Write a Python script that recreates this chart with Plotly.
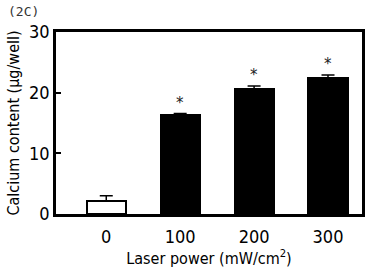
import plotly.graph_objects as go

categories = ["0", "100", "200", "300"]
values = [2.2, 16.4, 20.6, 22.4]
errors = [0.8, 0.15, 0.5, 0.5]
significant = [False, True, True, True]
fill_colors = ["white", "black", "black", "black"]
y_ticks = [0, 10, 20, 30]

FONT = "Liberation Sans Narrow, DejaVu Sans Condensed, Arial, sans-serif"
xpos = list(range(len(categories)))

fig = go.Figure()
fig.add_trace(go.Bar(
    x=xpos, y=values, width=0.53,
    marker=dict(color=fill_colors, line=dict(color="black", width=2)),
    error_y=dict(type="data", symmetric=False, array=errors,
                 arrayminus=[0] * len(errors), color="black",
                 thickness=1.5, width=6.5),
    showlegend=False,
))

for i, (v, e, s) in enumerate(zip(values, errors, significant)):
    if s:
        fig.add_annotation(x=i, y=v + e, text="*", showarrow=False,
                           xanchor="center", yanchor="bottom", yshift=0,
                           font=dict(family="DejaVu Sans", size=15, color="#222"))

fig.add_annotation(xref="paper", yref="paper", x=-0.165, y=1.06,
                   xanchor="left", yanchor="bottom", text="(2C)", showarrow=False,
                   font=dict(family="DejaVu Sans Mono", size=13, color="#333"))

fig.update_layout(
    width=373, height=271,
    margin=dict(l=56, r=11, t=32, b=57, autoexpand=False),
    paper_bgcolor="white", plot_bgcolor="white",
    font=dict(family=FONT, color="black"),
    bargap=0,
)
fig.update_xaxes(
    range=[-0.68, 3.46], tickmode="array", tickvals=xpos, ticktext=categories,
    ticks="", showline=True, linecolor="black", linewidth=2.5, mirror=True,
    showgrid=False, zeroline=False, tickfont=dict(size=18),
    ticklabelstandoff=5, automargin=False,
    title=dict(text="Laser power (mW/cm<sup>2</sup>)", font=dict(size=16), standoff=6),
)
fig.update_yaxes(
    range=[0, 30], tickmode="array", tickvals=y_ticks,
    ticks="inside", ticklen=5, tickwidth=2, tickcolor="black",
    showline=True, linecolor="black", linewidth=2.5, mirror=True,
    showgrid=False, zeroline=False, tickfont=dict(size=18),
    automargin=False,
    title=dict(text="Calcium content (μg/well)", font=dict(size=16), standoff=6),
)

fig.write_html("out.html", config={"displayModeBar": False},
               post_script="document.body.style.margin='0';document.body.style.padding='0';")
